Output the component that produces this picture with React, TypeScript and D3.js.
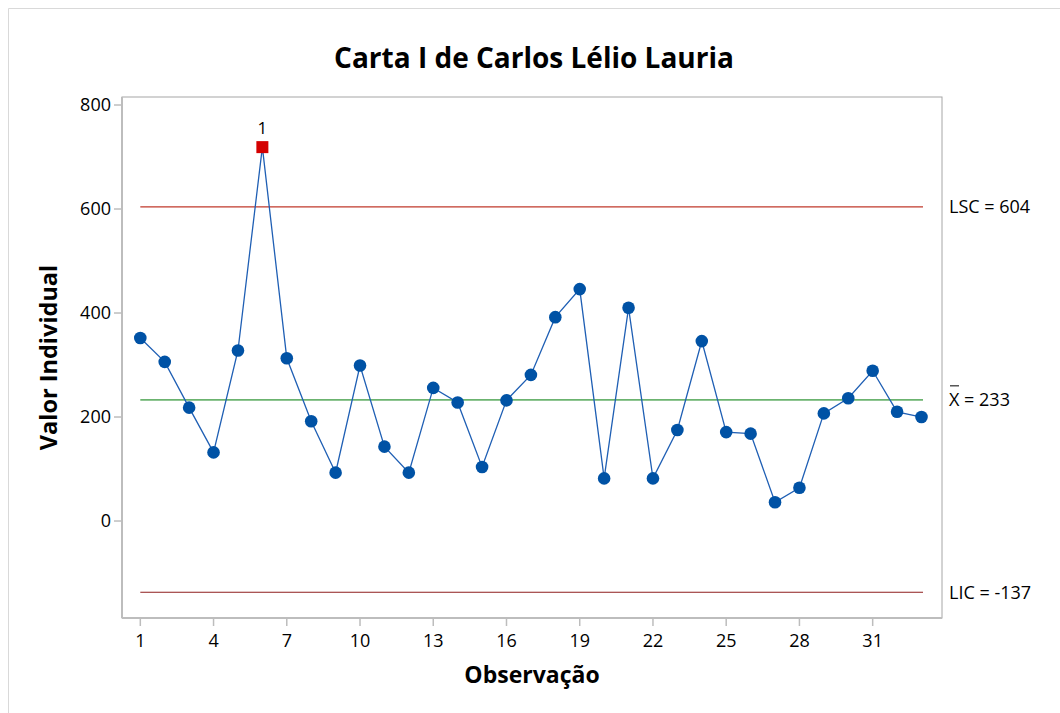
import React from "react";
import * as d3 from "d3";

const observations = d3.range(1, 34);
const values = [352, 306, 218, 132, 328, 719, 313, 192, 93, 299, 143, 93, 256, 228, 104, 232, 281, 392, 446, 82, 410, 82, 175, 346, 171, 168, 36, 64, 207, 236, 289, 210, 200];
const outOfControl = [6];
const xTicks = [1, 4, 7, 10, 13, 16, 19, 22, 25, 28, 31];
const yTicks = [0, 200, 400, 600, 800];
const UCL = 604;
const CL = 233;
const LCL = -137;

const W = 1060;
const H = 713;
const M = { left: 122, right: 942, top: 97, bottom: 618 };
const FONT = "'Open Sans', 'Noto Sans', sans-serif";

export default function App() {
  const x = d3.scaleLinear().domain([0.25, 33.84]).range([M.left, M.right]);
  const y = d3.scaleLinear().domain([-186.5, 815.4]).range([M.bottom, M.top]);
  const pts = observations.map((o, i) => ({ o, v: values[i] }));
  const line = d3
    .line<{ o: number; v: number }>()
    .x((d) => x(d.o))
    .y((d) => y(d.v));
  const x0 = x(1);
  const x1 = x(33) + 1.5;
  const labelX = 949;

  return (
    <svg
      width={W}
      height={H}
      style={{ position: "absolute", left: 0, top: 0, background: "#fff" }}
      fontFamily={FONT}
    >
      <rect x={0} y={0} width={W} height={H} fill="#fff" />
      {/* outer border */}
      <line x1={8.5} y1={8.5} x2={W} y2={8.5} stroke="#d9d9d9" strokeWidth={1} />
      <line x1={8.5} y1={8.5} x2={8.5} y2={H} stroke="#d9d9d9" strokeWidth={1} />

      {/* title */}
      <text x={534} y={68} textAnchor="middle" fontSize={28} fontWeight={700} fill="#000">
        Carta I de Carlos Lélio Lauria
      </text>

      {/* plot frame */}
      <rect
        x={M.left}
        y={M.top}
        width={M.right - M.left}
        height={M.bottom - M.top}
        fill="none"
        stroke="#a6a6a6"
        strokeWidth={1}
      />
      <line x1={M.left} y1={M.bottom} x2={M.right} y2={M.bottom} stroke="#bdbdbd" strokeWidth={2} />
      <line x1={M.left} y1={M.top} x2={M.left} y2={M.bottom} stroke="#bdbdbd" strokeWidth={2} />

      {/* y ticks */}
      {yTicks.map((t) => (
        <g key={"y" + t}>
          <line x1={M.left - 8} x2={M.left} y1={y(t)} y2={y(t)} stroke="#bdbdbd" strokeWidth={1.5} />
          <text x={M.left - 11} y={y(t)} dy="0.36em" textAnchor="end" fontSize={18} fill="#000">
            {t}
          </text>
        </g>
      ))}

      {/* x ticks */}
      {xTicks.map((t) => (
        <g key={"x" + t}>
          <line x1={x(t)} x2={x(t)} y1={M.bottom} y2={M.bottom + 8} stroke="#bdbdbd" strokeWidth={1.5} />
          <text x={x(t)} y={647} textAnchor="middle" fontSize={18} fill="#000">
            {t}
          </text>
        </g>
      ))}

      {/* axis titles */}
      <text x={532} y={683} textAnchor="middle" fontSize={23} fontWeight={700} fill="#000">
        Observação
      </text>
      <text
        transform={`translate(57, ${(M.top + M.bottom) / 2}) rotate(-90)`}
        textAnchor="middle"
        fontSize={23.5}
        fontWeight={700}
        fill="#000"
      >
        Valor Individual
      </text>

      {/* control lines */}
      <line x1={x0} x2={x1} y1={y(UCL)} y2={y(UCL)} stroke="#c0392b" strokeWidth={1.2} />
      <line x1={x0} x2={x1} y1={y(CL)} y2={y(CL)} stroke="#6bb36f" strokeWidth={1.8} />
      <line x1={x0} x2={x1} y1={y(LCL)} y2={y(LCL)} stroke="#8e1c1c" strokeWidth={1.2} />

      {/* control line labels */}
      <text x={labelX} y={y(UCL)} dy="0.36em" fontSize={18} fill="#000">
        LSC = 604
      </text>
      <text x={labelX} y={y(CL)} dy="0.36em" fontSize={18} fill="#000">
        X = 233
      </text>
      <line x1={labelX + 1} x2={labelX + 10} y1={y(CL) - 14} y2={y(CL) - 14} stroke="#000" strokeWidth={1} />
      <text x={labelX} y={y(LCL)} dy="0.36em" fontSize={18} fill="#000">
        LIC = -137
      </text>

      {/* data line */}
      <path d={line(pts) || ""} fill="none" stroke="#1f5fb4" strokeWidth={1.3} />

      {/* points */}
      {pts.map((p) =>
        outOfControl.includes(p.o) ? (
          <g key={"p" + p.o}>
            <rect x={x(p.o) - 6} y={y(p.v) - 6} width={12} height={12} fill="#d40000" />
            <text x={x(p.o)} y={y(p.v) - 13} textAnchor="middle" fontSize={17} fill="#000">
              1
            </text>
          </g>
        ) : (
          <circle key={"p" + p.o} cx={x(p.o)} cy={y(p.v)} r={6.3} fill="#0052a5" />
        )
      )}
    </svg>
  );
}
